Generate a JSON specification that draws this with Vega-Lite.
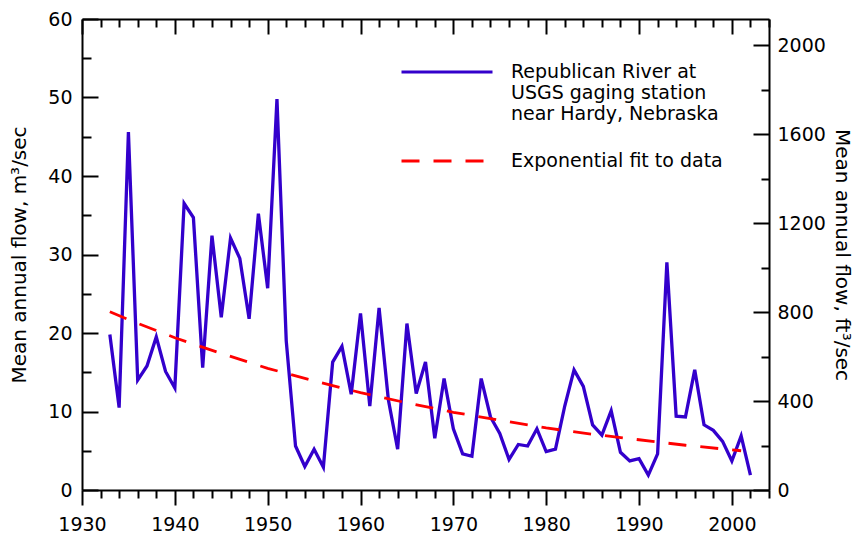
{
  "$schema": "https://vega.github.io/schema/vega-lite/v6.json",
  "width": 687,
  "height": 471,
  "autosize": {"type": "none"},
  "padding": {"left": 82, "top": 19, "right": 88, "bottom": 45},
  "background": "white",
  "config": {
    "view": {"stroke": null},
    "font": "DejaVu Sans",
    "axis": {
      "grid": false,
      "domainColor": "black",
      "domainWidth": 2,
      "tickColor": "black",
      "tickWidth": 2,
      "labelFont": "DejaVu Sans",
      "labelFontSize": 19,
      "labelColor": "black",
      "titleFont": "DejaVu Sans",
      "titleFontSize": 20,
      "titleFontWeight": "normal",
      "titleColor": "black"
    },
    "legend": {
      "labelFont": "DejaVu Sans",
      "labelFontSize": 19,
      "labelColor": "black",
      "labelLimit": 400,
      "labelOffset": 17,
      "padding": 0,
      "symbolType": "stroke",
      "symbolSize": 8281
    }
  },
  "datasets": {
    "river": [
      {"year": 1933, "flow": 19.8, "series": "Republican River at|USGS gaging station|near Hardy, Nebraska"},
      {"year": 1934, "flow": 10.5, "series": "Republican River at|USGS gaging station|near Hardy, Nebraska"},
      {"year": 1935, "flow": 45.6, "series": "Republican River at|USGS gaging station|near Hardy, Nebraska"},
      {"year": 1936, "flow": 14.0, "series": "Republican River at|USGS gaging station|near Hardy, Nebraska"},
      {"year": 1937, "flow": 15.8, "series": "Republican River at|USGS gaging station|near Hardy, Nebraska"},
      {"year": 1938, "flow": 19.5, "series": "Republican River at|USGS gaging station|near Hardy, Nebraska"},
      {"year": 1939, "flow": 15.1, "series": "Republican River at|USGS gaging station|near Hardy, Nebraska"},
      {"year": 1940, "flow": 13.0, "series": "Republican River at|USGS gaging station|near Hardy, Nebraska"},
      {"year": 1941, "flow": 36.5, "series": "Republican River at|USGS gaging station|near Hardy, Nebraska"},
      {"year": 1942, "flow": 34.7, "series": "Republican River at|USGS gaging station|near Hardy, Nebraska"},
      {"year": 1943, "flow": 15.6, "series": "Republican River at|USGS gaging station|near Hardy, Nebraska"},
      {"year": 1944, "flow": 32.4, "series": "Republican River at|USGS gaging station|near Hardy, Nebraska"},
      {"year": 1945, "flow": 22.0, "series": "Republican River at|USGS gaging station|near Hardy, Nebraska"},
      {"year": 1946, "flow": 32.1, "series": "Republican River at|USGS gaging station|near Hardy, Nebraska"},
      {"year": 1947, "flow": 29.5, "series": "Republican River at|USGS gaging station|near Hardy, Nebraska"},
      {"year": 1948, "flow": 21.8, "series": "Republican River at|USGS gaging station|near Hardy, Nebraska"},
      {"year": 1949, "flow": 35.2, "series": "Republican River at|USGS gaging station|near Hardy, Nebraska"},
      {"year": 1950, "flow": 25.7, "series": "Republican River at|USGS gaging station|near Hardy, Nebraska"},
      {"year": 1951, "flow": 49.8, "series": "Republican River at|USGS gaging station|near Hardy, Nebraska"},
      {"year": 1952, "flow": 19.0, "series": "Republican River at|USGS gaging station|near Hardy, Nebraska"},
      {"year": 1953, "flow": 5.6, "series": "Republican River at|USGS gaging station|near Hardy, Nebraska"},
      {"year": 1954, "flow": 3.0, "series": "Republican River at|USGS gaging station|near Hardy, Nebraska"},
      {"year": 1955, "flow": 5.2, "series": "Republican River at|USGS gaging station|near Hardy, Nebraska"},
      {"year": 1956, "flow": 2.9, "series": "Republican River at|USGS gaging station|near Hardy, Nebraska"},
      {"year": 1957, "flow": 16.3, "series": "Republican River at|USGS gaging station|near Hardy, Nebraska"},
      {"year": 1958, "flow": 18.3, "series": "Republican River at|USGS gaging station|near Hardy, Nebraska"},
      {"year": 1959, "flow": 12.2, "series": "Republican River at|USGS gaging station|near Hardy, Nebraska"},
      {"year": 1960, "flow": 22.5, "series": "Republican River at|USGS gaging station|near Hardy, Nebraska"},
      {"year": 1961, "flow": 10.7, "series": "Republican River at|USGS gaging station|near Hardy, Nebraska"},
      {"year": 1962, "flow": 23.2, "series": "Republican River at|USGS gaging station|near Hardy, Nebraska"},
      {"year": 1963, "flow": 11.5, "series": "Republican River at|USGS gaging station|near Hardy, Nebraska"},
      {"year": 1964, "flow": 5.2, "series": "Republican River at|USGS gaging station|near Hardy, Nebraska"},
      {"year": 1965, "flow": 21.2, "series": "Republican River at|USGS gaging station|near Hardy, Nebraska"},
      {"year": 1966, "flow": 12.3, "series": "Republican River at|USGS gaging station|near Hardy, Nebraska"},
      {"year": 1967, "flow": 16.3, "series": "Republican River at|USGS gaging station|near Hardy, Nebraska"},
      {"year": 1968, "flow": 6.6, "series": "Republican River at|USGS gaging station|near Hardy, Nebraska"},
      {"year": 1969, "flow": 14.2, "series": "Republican River at|USGS gaging station|near Hardy, Nebraska"},
      {"year": 1970, "flow": 7.8, "series": "Republican River at|USGS gaging station|near Hardy, Nebraska"},
      {"year": 1971, "flow": 4.6, "series": "Republican River at|USGS gaging station|near Hardy, Nebraska"},
      {"year": 1972, "flow": 4.3, "series": "Republican River at|USGS gaging station|near Hardy, Nebraska"},
      {"year": 1973, "flow": 14.2, "series": "Republican River at|USGS gaging station|near Hardy, Nebraska"},
      {"year": 1974, "flow": 9.3, "series": "Republican River at|USGS gaging station|near Hardy, Nebraska"},
      {"year": 1975, "flow": 7.2, "series": "Republican River at|USGS gaging station|near Hardy, Nebraska"},
      {"year": 1976, "flow": 3.9, "series": "Republican River at|USGS gaging station|near Hardy, Nebraska"},
      {"year": 1977, "flow": 5.8, "series": "Republican River at|USGS gaging station|near Hardy, Nebraska"},
      {"year": 1978, "flow": 5.6, "series": "Republican River at|USGS gaging station|near Hardy, Nebraska"},
      {"year": 1979, "flow": 7.8, "series": "Republican River at|USGS gaging station|near Hardy, Nebraska"},
      {"year": 1980, "flow": 4.9, "series": "Republican River at|USGS gaging station|near Hardy, Nebraska"},
      {"year": 1981, "flow": 5.2, "series": "Republican River at|USGS gaging station|near Hardy, Nebraska"},
      {"year": 1982, "flow": 10.7, "series": "Republican River at|USGS gaging station|near Hardy, Nebraska"},
      {"year": 1983, "flow": 15.3, "series": "Republican River at|USGS gaging station|near Hardy, Nebraska"},
      {"year": 1984, "flow": 13.2, "series": "Republican River at|USGS gaging station|near Hardy, Nebraska"},
      {"year": 1985, "flow": 8.3, "series": "Republican River at|USGS gaging station|near Hardy, Nebraska"},
      {"year": 1986, "flow": 7.0, "series": "Republican River at|USGS gaging station|near Hardy, Nebraska"},
      {"year": 1987, "flow": 10.1, "series": "Republican River at|USGS gaging station|near Hardy, Nebraska"},
      {"year": 1988, "flow": 4.8, "series": "Republican River at|USGS gaging station|near Hardy, Nebraska"},
      {"year": 1989, "flow": 3.7, "series": "Republican River at|USGS gaging station|near Hardy, Nebraska"},
      {"year": 1990, "flow": 4.0, "series": "Republican River at|USGS gaging station|near Hardy, Nebraska"},
      {"year": 1991, "flow": 1.9, "series": "Republican River at|USGS gaging station|near Hardy, Nebraska"},
      {"year": 1992, "flow": 4.6, "series": "Republican River at|USGS gaging station|near Hardy, Nebraska"},
      {"year": 1993, "flow": 29.0, "series": "Republican River at|USGS gaging station|near Hardy, Nebraska"},
      {"year": 1994, "flow": 9.4, "series": "Republican River at|USGS gaging station|near Hardy, Nebraska"},
      {"year": 1995, "flow": 9.3, "series": "Republican River at|USGS gaging station|near Hardy, Nebraska"},
      {"year": 1996, "flow": 15.3, "series": "Republican River at|USGS gaging station|near Hardy, Nebraska"},
      {"year": 1997, "flow": 8.3, "series": "Republican River at|USGS gaging station|near Hardy, Nebraska"},
      {"year": 1998, "flow": 7.6, "series": "Republican River at|USGS gaging station|near Hardy, Nebraska"},
      {"year": 1999, "flow": 6.2, "series": "Republican River at|USGS gaging station|near Hardy, Nebraska"},
      {"year": 2000, "flow": 3.7, "series": "Republican River at|USGS gaging station|near Hardy, Nebraska"},
      {"year": 2001, "flow": 6.9, "series": "Republican River at|USGS gaging station|near Hardy, Nebraska"},
      {"year": 2002, "flow": 1.9, "series": "Republican River at|USGS gaging station|near Hardy, Nebraska"}
    ],
    "fit": [
      {"year": 1933, "flow": 22.7, "series": "Exponential fit to data"},
      {"year": 1935, "flow": 21.7, "series": "Exponential fit to data"},
      {"year": 1940, "flow": 19.4, "series": "Exponential fit to data"},
      {"year": 1945, "flow": 17.4, "series": "Exponential fit to data"},
      {"year": 1950, "flow": 15.5, "series": "Exponential fit to data"},
      {"year": 1955, "flow": 13.9, "series": "Exponential fit to data"},
      {"year": 1960, "flow": 12.4, "series": "Exponential fit to data"},
      {"year": 1965, "flow": 11.1, "series": "Exponential fit to data"},
      {"year": 1970, "flow": 9.9, "series": "Exponential fit to data"},
      {"year": 1975, "flow": 8.9, "series": "Exponential fit to data"},
      {"year": 1980, "flow": 7.9, "series": "Exponential fit to data"},
      {"year": 1985, "flow": 7.1, "series": "Exponential fit to data"},
      {"year": 1990, "flow": 6.4, "series": "Exponential fit to data"},
      {"year": 1995, "flow": 5.7, "series": "Exponential fit to data"},
      {"year": 2001, "flow": 5.0, "series": "Exponential fit to data"}
    ]
  },
  "resolve": {"scale": {"y": "independent"}, "axis": {"x": "independent", "y": "independent"}},
  "layer": [
    {
      "data": {"name": "river"},
      "mark": {"type": "line", "clip": true, "strokeWidth": 3.3},
      "encoding": {
        "x": {
          "field": "year", "type": "quantitative",
          "scale": {"domain": [1930, 2004], "nice": false, "zero": false},
          "axis": {
            "orient": "bottom", "title": null,
            "values": [1930,1932,1934,1936,1938,1940,1942,1944,1946,1948,1950,1952,1954,1956,1958,1960,1962,1964,1966,1968,1970,1972,1974,1976,1978,1980,1982,1984,1986,1988,1990,1992,1994,1996,1998,2000,2002,2004],
            "labelExpr": "datum.value % 10 === 0 ? toString(datum.value) : ''",
            "tickSize": {"condition": {"test": "datum.value % 10 === 0", "value": 15}, "value": 8},
            "labelPadding": 10,
            "labelFlush": false,
            "labelOverlap": false
          }
        },
        "y": {
          "field": "flow", "type": "quantitative",
          "scale": {"domain": [0, 60], "nice": false},
          "axis": {
            "orient": "left",
            "title": "Mean annual flow, m³/sec",
            "values": [0,5,10,15,20,25,30,35,40,45,50,55,60],
            "labelExpr": "datum.value % 10 === 0 ? toString(datum.value) : ''",
            "tickSize": {"condition": {"test": "datum.value % 10 === 0", "value": -16}, "value": -9},
            "labelPadding": 26,
            "labelFlush": false,
            "labelOverlap": false,
            "titlePadding": 18
          }
        },
        "color": {
          "field": "series", "type": "nominal",
          "scale": {
            "domain": ["Republican River at|USGS gaging station|near Hardy, Nebraska"],
            "range": ["#3300cc"]
          },
          "legend": {
            "orient": "none",
            "legendX": 318,
            "legendY": 6,
            "title": null,
            "symbolStrokeWidth": 3,
            "labelExpr": "split(datum.label, '|')"
          }
        }
      }
    },
    {
      "data": {"name": "fit"},
      "mark": {"type": "line", "clip": true, "color": "#ff0000", "strokeWidth": 2.8},
      "encoding": {
        "x": {
          "field": "year", "type": "quantitative",
          "scale": {"domain": [1930, 2004], "nice": false, "zero": false},
          "axis": null
        },
        "y": {
          "field": "flow", "type": "quantitative",
          "scale": {"domain": [0, 60], "nice": false},
          "axis": null
        },
        "strokeDash": {
          "field": "series", "type": "nominal",
          "scale": {
            "domain": ["Exponential fit to data"],
            "range": [[18, 14]]
          },
          "legend": {
            "orient": "none",
            "legendX": 318,
            "legendY": 95,
            "title": null,
            "symbolStrokeColor": "#ff0000",
            "symbolStrokeWidth": 2.8
          }
        }
      }
    },
    {
      "data": {"name": "river"},
      "mark": {"type": "point", "opacity": 0},
      "encoding": {
        "x": {
          "field": "year", "type": "quantitative",
          "scale": {"domain": [1930, 2004], "nice": false, "zero": false},
          "axis": {
            "orient": "top", "title": null, "labels": false,
            "values": [1930,1932,1934,1936,1938,1940,1942,1944,1946,1948,1950,1952,1954,1956,1958,1960,1962,1964,1966,1968,1970,1972,1974,1976,1978,1980,1982,1984,1986,1988,1990,1992,1994,1996,1998,2000,2002,2004],
            "tickSize": {"condition": {"test": "datum.value % 10 === 0", "value": -15}, "value": -8}
          }
        },
        "y": {
          "field": "flow", "type": "quantitative",
          "scale": {"domain": [0, 2118.88], "nice": false},
          "axis": {
            "orient": "right",
            "title": "Mean annual flow, ft³/sec",
            "values": [0,200,400,600,800,1000,1200,1400,1600,1800,2000],
            "labelExpr": "datum.value % 400 === 0 ? toString(datum.value) : ''",
            "tickSize": {"condition": {"test": "datum.value % 400 === 0", "value": -16}, "value": -8},
            "labelPadding": 24,
            "labelFlush": false,
            "labelOverlap": false,
            "titlePadding": 6
          }
        }
      }
    }
  ]
}
